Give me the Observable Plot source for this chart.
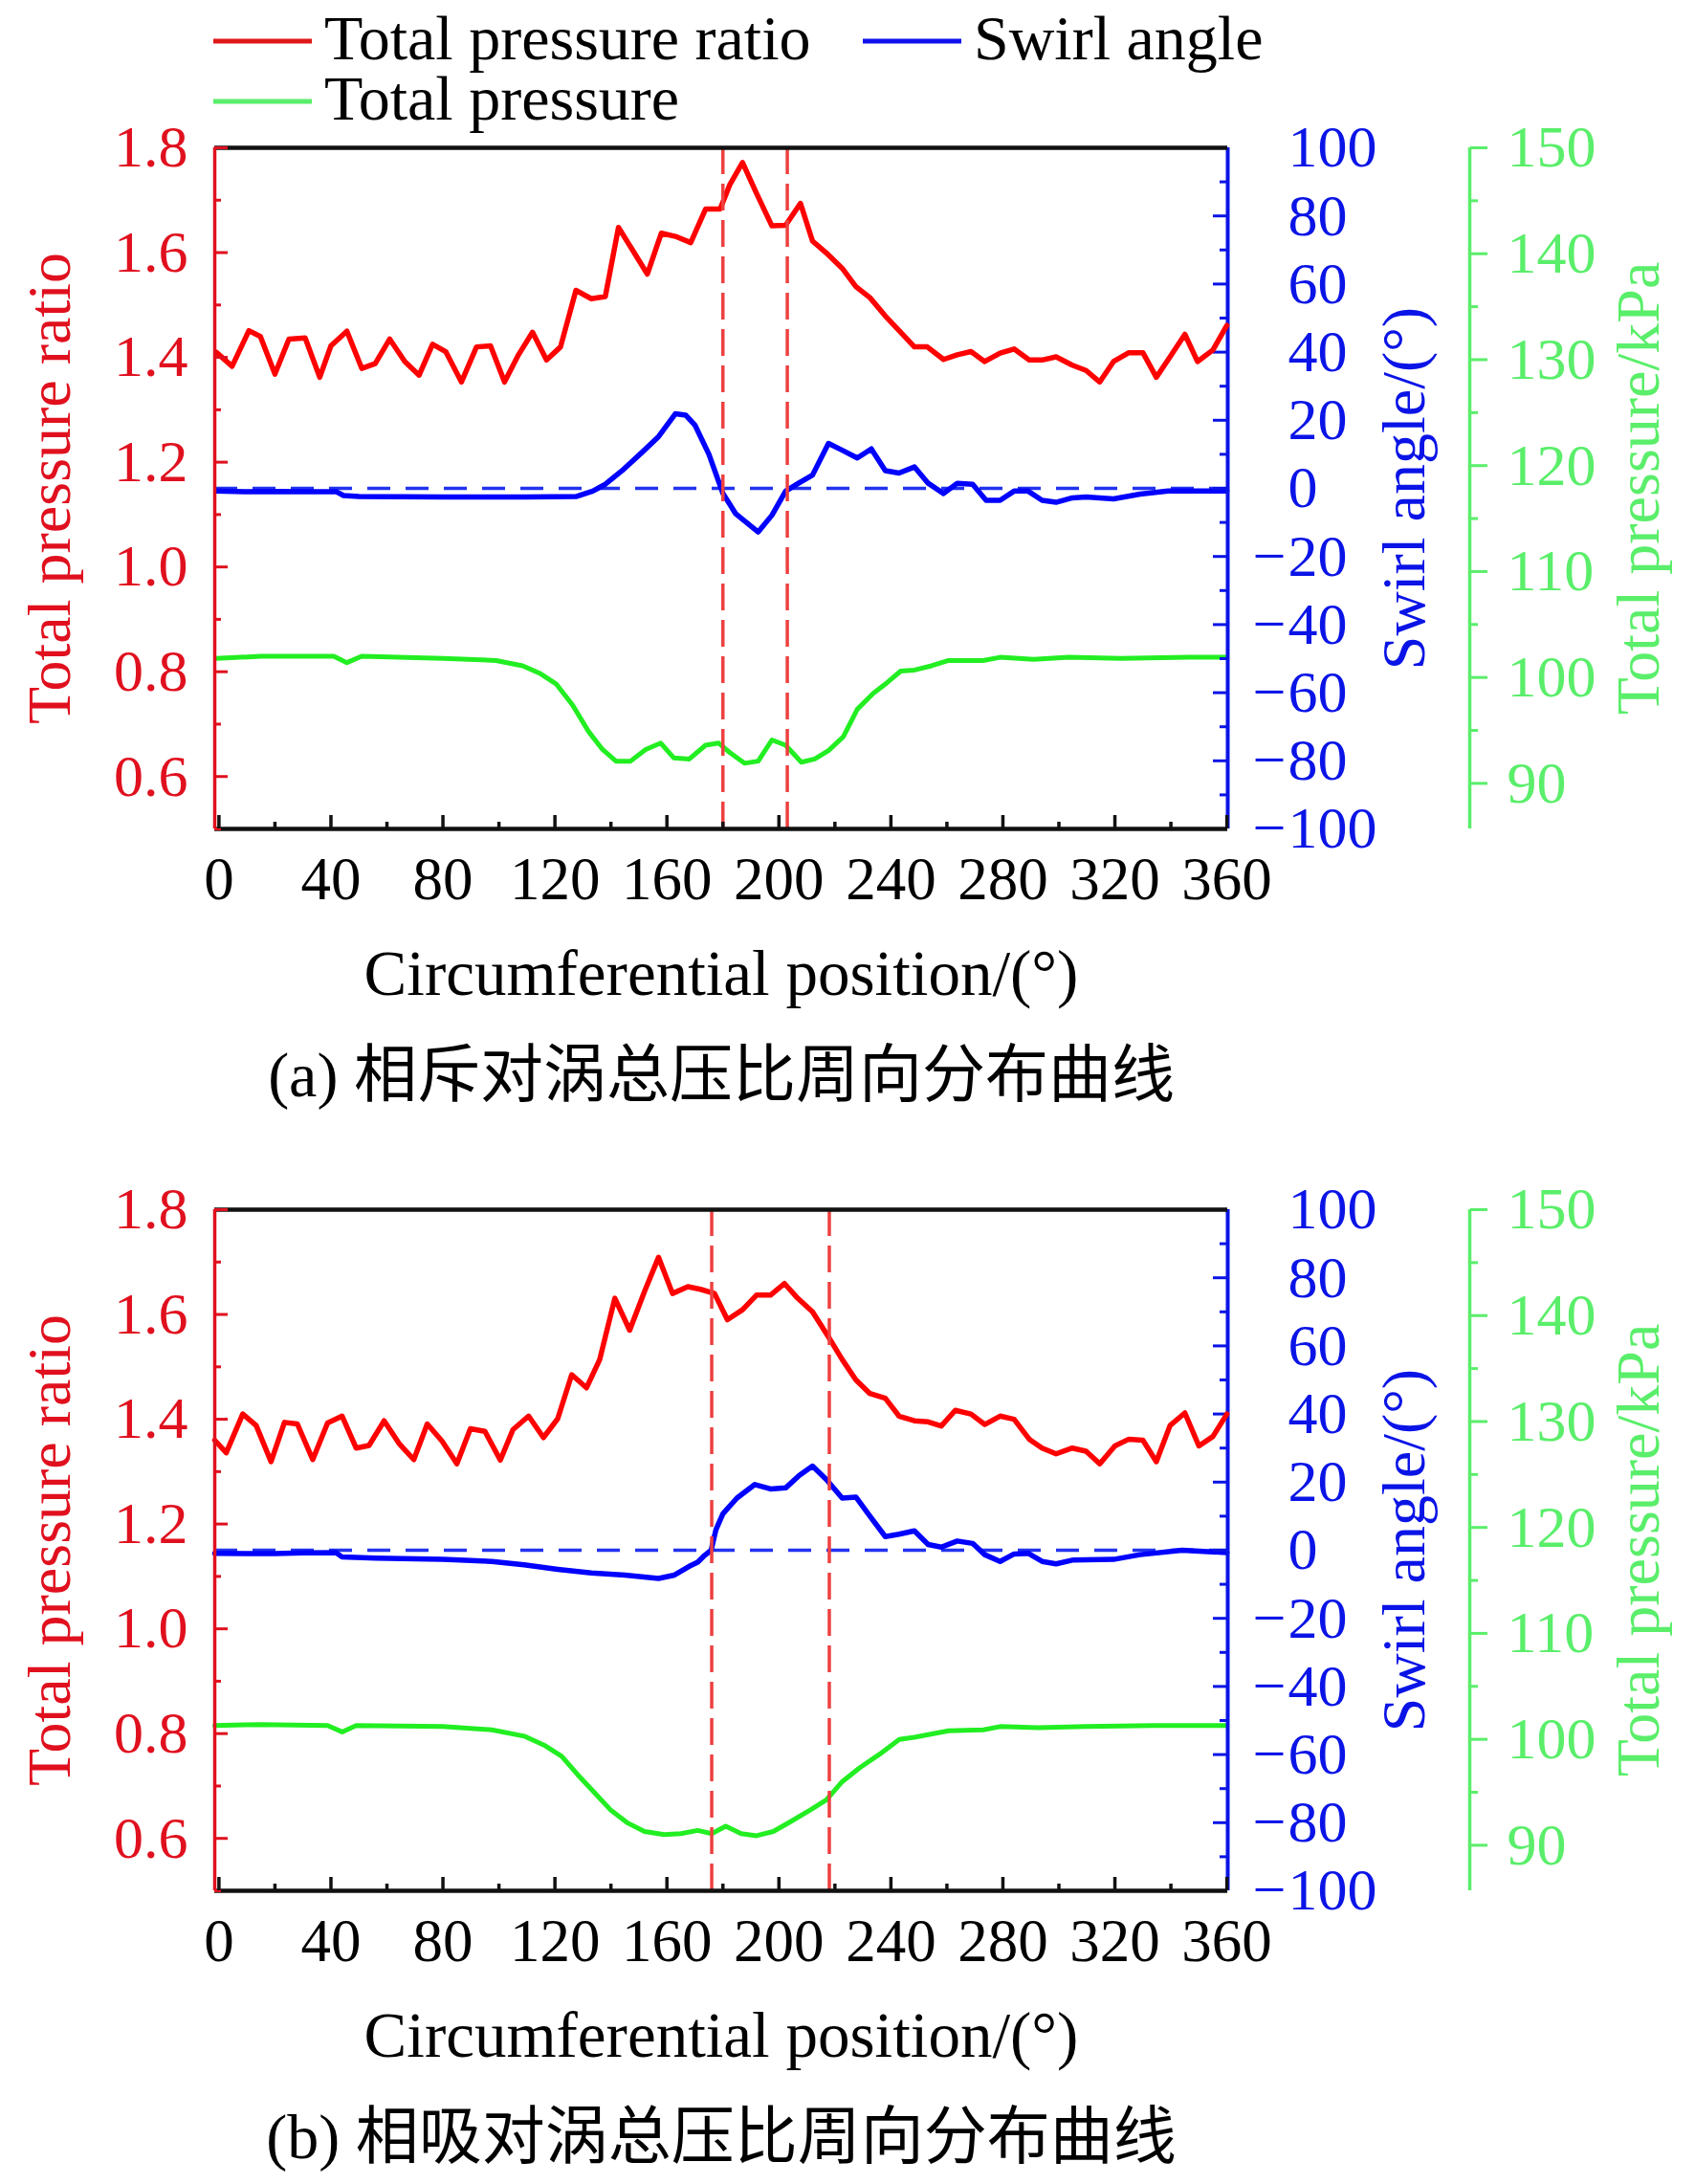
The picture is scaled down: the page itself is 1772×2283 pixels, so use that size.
<!DOCTYPE html>
<html>
<head>
<meta charset="utf-8">
<script src="https://cdn.jsdelivr.net/npm/d3@7"></script>
<script src="https://cdn.jsdelivr.net/npm/@observablehq/plot@0.6"></script>
<style>
  html, body { margin: 0; padding: 0; background: #ffffff; }
  #root { position: relative; width: 1772px; height: 2283px; overflow: hidden; background: #fff; }
  .layer { position: absolute; left: 0; top: 0; }
  .panel { position: absolute; left: 0; width: 1772px; height: 1173px; }
</style>
</head>
<body>
<div id="root"></div>
<script>
// ---------------- data ----------------
const xTicksMajor = [0, 40, 80, 120, 160, 200, 240, 280, 320, 360];
const xTicksMinor = [20, 60, 100, 140, 180, 220, 260, 300, 340];
const ratioTicksMajor = [0.6, 0.8, 1.0, 1.2, 1.4, 1.6, 1.8];
const ratioTicksMinor = [0.5, 0.7, 0.9, 1.1, 1.3, 1.5, 1.7];
const swirlTicksMajor = [-100, -80, -60, -40, -20, 0, 20, 40, 60, 80, 100];
const swirlTicksMinor = [-90, -70, -50, -30, -10, 10, 30, 50, 70, 90];
const totalTicksMajor = [90, 100, 110, 120, 130, 140, 150];
const totalTicksMinor = [95, 105, 115, 125, 135, 145];

const legendLabels = ["Total pressure ratio", "Swirl angle", "Total pressure"];
const xTitle = "Circumferential position/(°)";
const ratioTitle = "Total pressure ratio";
const swirlTitle = "Swirl angle/(°)";
const totalTitle = "Total pressure/kPa";
const captionA = "(a) 相斥对涡总压比周向分布曲线";
const captionB = "(b) 相吸对涡总压比周向分布曲线";

// panel (a) — [position deg, value]
const aMarkers = [180, 203];
const aRatio = [[-1,1.41],[4.7,1.383],[10.7,1.451],[14.8,1.44],[20,1.368],[25,1.435],[30.8,1.437],[36,1.362],[40,1.422],[45.7,1.45],[51,1.379],[55.8,1.388],[61,1.435],[66.4,1.392],[71.5,1.366],[76.3,1.425],[81,1.411],[86.6,1.353],[92,1.42],[97,1.422],[102,1.353],[107,1.405],[112,1.448],[117,1.395],[122,1.42],[127.5,1.528],[133,1.512],[138,1.516],[142.7,1.648],[147.7,1.605],[153,1.559],[158,1.637],[163,1.631],[168.5,1.619],[173.8,1.683],[179,1.683],[182.5,1.73],[187,1.772],[192,1.713],[197.5,1.651],[202.4,1.652],[207.7,1.694],[212,1.622],[217,1.599],[222.6,1.57],[227.5,1.535],[232.5,1.514],[238,1.479],[243.5,1.448],[248.4,1.42],[253,1.42],[258.8,1.396],[263.7,1.405],[268.6,1.411],[273.5,1.392],[279,1.408],[284,1.416],[289.4,1.395],[294,1.395],[299,1.401],[304.8,1.385],[309.7,1.375],[314.6,1.353],[319.5,1.392],[325,1.409],[330,1.409],[334.8,1.362],[339.7,1.401],[345,1.444],[349.5,1.392],[355,1.414],[360,1.461]];
const aSwirl = [[-1,-0.8],[10,-1],[20,-0.9],[30,-1],[42,-1],[44.5,-2.1],[50,-2.4],[80,-2.5],[110,-2.5],[127.5,-2.4],[133.5,-0.8],[138,1.2],[144,5.2],[151,10.5],[157,15.2],[163,21.9],[166.7,21.5],[170,18.6],[175,10],[180,-1.5],[184.6,-7.5],[192.6,-12.8],[197.5,-7.9],[202.4,-0.8],[207,1.5],[212,3.9],[217.7,13.2],[222.6,11.2],[228,8.9],[233,11.6],[238,5.2],[242.9,4.5],[248.4,6.3],[253.3,1.5],[258.8,-1.5],[263.7,1.5],[269.2,1.2],[274,-3.5],[279,-3.5],[284,-0.8],[289,-0.8],[294,-3.5],[299,-4.1],[304.8,-2.8],[309.7,-2.5],[319.5,-3.1],[329,-1.7],[339,-0.8],[349,-0.8],[360,-0.8]];
const aTotal = [[-1,101.8],[15,102],[41,102],[45.7,101.4],[51,102],[80,101.8],[99,101.6],[108.5,101.1],[114.5,100.4],[120.4,99.4],[126.3,97.4],[132,94.9],[137,93.2],[141.8,92.1],[147,92.1],[152.4,93.2],[157.8,93.8],[162.5,92.4],[168,92.3],[173.8,93.6],[178.5,93.8],[182.5,92.9],[187.7,91.9],[192.6,92.1],[197.5,94.1],[202.4,93.6],[208,92],[212.8,92.3],[217.7,93.1],[223,94.4],[228,97],[233.7,98.5],[238.6,99.5],[243.5,100.6],[248.4,100.7],[254.5,101.1],[260.6,101.6],[268,101.6],[272.9,101.6],[279,101.9],[291,101.7],[303.5,101.9],[322,101.8],[346.4,101.9],[360,101.9]];

// panel (b)
const bMarkers = [176, 218];
const bRatio = [[-1.5,1.36],[2.6,1.336],[8.5,1.41],[13.3,1.388],[18.6,1.319],[23.4,1.394],[28,1.391],[33.5,1.323],[38.8,1.393],[44,1.406],[49,1.345],[53.6,1.35],[59,1.397],[64.3,1.354],[69.6,1.323],[74.4,1.391],[79.7,1.358],[85,1.315],[89.8,1.382],[95,1.377],[100.5,1.322],[105,1.38],[110.6,1.406],[115.9,1.365],[121,1.401],[126,1.485],[131.3,1.46],[136,1.514],[141.4,1.631],[146.7,1.57],[152,1.644],[157,1.709],[162,1.64],[167.5,1.653],[172,1.648],[177,1.64],[181.6,1.59],[187,1.609],[192,1.637],[197,1.637],[202,1.659],[206.7,1.631],[212,1.605],[217.7,1.557],[222.6,1.514],[227.5,1.475],[232.5,1.449],[238,1.44],[242.9,1.406],[248.4,1.397],[253.3,1.395],[258,1.387],[263,1.417],[268.6,1.41],[273.5,1.39],[279,1.406],[284,1.4],[289.4,1.362],[294,1.345],[299,1.334],[304.8,1.345],[309.7,1.339],[314.6,1.315],[320,1.349],[325,1.362],[330,1.36],[334.8,1.319],[339.7,1.388],[345,1.412],[350,1.349],[355,1.367],[360,1.41]];
const bSwirl = [[-1.5,-0.9],[10,-1],[20,-1],[30,-0.8],[41.8,-0.7],[44,-2],[56,-2.3],[80,-2.7],[97.5,-3.3],[109,-4.3],[121,-5.6],[133,-6.7],[145,-7.3],[157,-8.3],[162.7,-7.3],[168.7,-4.4],[171,-3.5],[173.5,-1.5],[175.8,0],[177.5,6],[180,10.7],[185,15.3],[191.4,19.3],[197,18],[202.4,18.3],[207.3,22],[212,24.7],[217,20.7],[222.6,15.3],[227.5,15.6],[232.5,10],[238,4],[242.9,4.7],[248.4,5.7],[253.3,1.7],[258,0.9],[263.7,2.7],[269.2,2],[273.5,-1.3],[279,-3.3],[284,-1.1],[289,-0.9],[294,-3.3],[299,-4],[304.8,-2.9],[319.5,-2.7],[329,-1.3],[344,0],[360,-0.7]];
const bTotal = [[-1.5,101.3],[15,101.4],[38.8,101.3],[44,100.7],[49,101.3],[80,101.2],[97.5,100.9],[109,100.3],[116.5,99.4],[122.4,98.4],[128,96.7],[134,95],[140,93.3],[146,92.1],[152,91.3],[159,91.0],[165,91.1],[171,91.4],[176,91.1],[181,91.8],[186.5,91.1],[192,90.9],[198,91.3],[204,92.2],[211,93.3],[217,94.3],[222.6,96],[228.8,97.3],[236,98.6],[243,100],[248.4,100.2],[260.6,100.8],[273,100.9],[279,101.2],[292.5,101.1],[309.7,101.2],[334,101.3],[360,101.3]];

// ---------------- style ----------------
const SERIF = "'Liberation Serif', 'Times New Roman', serif";
const CAPFONT = "'Liberation Serif', 'Noto Sans CJK SC', serif";
const RED = "#ff0000", RED_AX = "#e0101e", RED_DASH = "#ee4040";
const BLUE = "#0000ff", BLUE_AX = "#0a14e6", BLUE_DASH = "#2233ee";
const GREEN = "#22ee22", GREEN_AX = "#5aee6a";

const W = 1772, H = 1173;
const ML = 224, MR = 489, MT = 154, MB = 307;
const FW = W - ML - MR;   // frame width
const FH = H - MT - MB;   // frame height
const XDOM = [-1.5, 360.3];

const base = {
  width: W, height: H,
  marginLeft: ML, marginRight: MR, marginTop: MT, marginBottom: MB,
  style: {background: "transparent", overflow: "visible"}
};

function redLayer(ratio, markers, caption) {
  return Plot.plot({
    ...base,
    x: {domain: XDOM},
    y: {domain: [0.5, 1.8]},
    marks: [
      Plot.line(ratio, {x: d => d[0], y: d => d[1], stroke: RED, strokeWidth: 5.5, strokeLinejoin: "round"}),
      Plot.ruleX(markers, {x: d => d, stroke: RED_DASH, strokeWidth: 3.5, strokeDasharray: "28 10"}),
      Plot.ruleY([1.8], {y: d => d, stroke: "#111", strokeWidth: 4.5}),
      Plot.ruleY([0.5], {y: d => d, stroke: "#111", strokeWidth: 4.5}),
      Plot.ruleX([XDOM[0]], {x: d => d, stroke: RED_AX, strokeWidth: 3.5}),
      Plot.tickY(ratioTicksMajor, {y: d => d, stroke: RED_AX, strokeWidth: 3, insetRight: FW - 14}),
      Plot.tickY(ratioTicksMinor, {y: d => d, stroke: RED_AX, strokeWidth: 3, insetRight: FW - 7}),
      Plot.tickX(xTicksMajor, {x: d => d, stroke: "#111", strokeWidth: 3.5, insetTop: FH - 14}),
      Plot.tickX(xTicksMinor, {x: d => d, stroke: "#111", strokeWidth: 3.5, insetTop: FH - 7}),
      Plot.axisY({anchor: "left", ticks: ratioTicksMajor, tickFormat: d => d.toFixed(1), tickSize: 0, tickPadding: 28,
        fontSize: 62, fontFamily: SERIF, color: RED_AX, fill: RED_AX, label: null}),
      Plot.axisX({anchor: "bottom", ticks: xTicksMajor, tickFormat: d => String(d), tickSize: 0, tickPadding: 29,
        fontSize: 63, fontFamily: SERIF, color: "#000", fill: "#000", label: null}),
      Plot.text([xTitle], {text: d => d, frameAnchor: "bottom", dy: 152, lineAnchor: "middle", textAnchor: "middle",
        fontSize: 67, fontFamily: SERIF, fill: "#000"}),
      Plot.text([caption], {text: d => d, frameAnchor: "bottom", dy: 258, lineAnchor: "middle", textAnchor: "middle",
        fontSize: 66, fontFamily: CAPFONT, fill: "#000"}),
      Plot.text([ratioTitle], {text: d => d, frameAnchor: "left", dx: 52 - ML, rotate: -90, textAnchor: "middle", lineAnchor: "middle",
        fontSize: 64, fontFamily: SERIF, fill: RED_AX})
    ]
  });
}

function blueLayer(swirl) {
  return Plot.plot({
    ...base,
    x: {domain: XDOM, axis: null},
    y: {domain: [-100, 100]},
    marks: [
      Plot.ruleY([0], {y: d => d, stroke: BLUE_DASH, strokeWidth: 3.5, strokeDasharray: "24 16"}),
      Plot.line(swirl, {x: d => d[0], y: d => d[1], stroke: BLUE, strokeWidth: 5.5, strokeLinejoin: "round"}),
      Plot.ruleX([XDOM[1]], {x: d => d, stroke: BLUE_AX, strokeWidth: 4}),
      Plot.tickY(swirlTicksMajor, {y: d => d, stroke: BLUE_AX, strokeWidth: 3, insetLeft: FW - 15}),
      Plot.tickY(swirlTicksMinor, {y: d => d, stroke: BLUE_AX, strokeWidth: 3, insetLeft: FW - 8}),
      Plot.axisY({anchor: "right", ticks: swirlTicksMajor, tickFormat: d => String(Math.abs(d)), tickSize: 0, tickPadding: 63,
        textAnchor: "start", fontSize: 62, fontFamily: SERIF, color: BLUE_AX, fill: BLUE_AX, label: null}),
      Plot.axisY({anchor: "right", ticks: swirlTicksMajor.filter(d => d < 0), tickFormat: () => "−", tickSize: 0, tickPadding: 61,
        textAnchor: "end", fontSize: 62, fontFamily: SERIF, color: BLUE_AX, fill: BLUE_AX, label: null}),
      Plot.text([swirlTitle], {text: d => d, frameAnchor: "right", dx: 1468 - (W - MR), rotate: -90, textAnchor: "middle", lineAnchor: "middle",
        fontSize: 64, fontFamily: SERIF, fill: BLUE_AX})
    ]
  });
}

function greenLayer(total) {
  const off = 1536 - (W - MR);
  return Plot.plot({
    ...base,
    x: {domain: XDOM, axis: null},
    y: {domain: [85.7, 150]},
    marks: [
      Plot.line(total, {x: d => d[0], y: d => d[1], stroke: GREEN, strokeWidth: 5, strokeLinejoin: "round"}),
      Plot.ruleX([XDOM[1]], {x: d => d, dx: off, stroke: GREEN_AX, strokeWidth: 3.5}),
      Plot.axisY({anchor: "right", ticks: totalTicksMajor, tickFormat: d => String(d), dx: off, tickSize: 18, tickPadding: 21,
        strokeWidth: 3, fontSize: 62, fontFamily: SERIF, color: GREEN_AX, stroke: GREEN_AX, fill: GREEN_AX, label: null}),
      Plot.axisY({anchor: "right", ticks: totalTicksMinor, tickFormat: () => "", dx: off, tickSize: 8, tickPadding: 0,
        strokeWidth: 3, color: GREEN_AX, stroke: GREEN_AX, label: null}),
      Plot.text([totalTitle], {text: d => d, frameAnchor: "right", dx: 1713 - (W - MR), rotate: -90, textAnchor: "middle", lineAnchor: "middle",
        fontSize: 64, fontFamily: SERIF, fill: GREEN_AX})
    ]
  });
}

const root = document.getElementById("root");

function addPanel(top, ratio, swirl, total, markers, caption) {
  const panel = document.createElement("div");
  panel.className = "panel";
  panel.style.top = top + "px";
  for (const svg of [greenLayer(total), blueLayer(swirl), redLayer(ratio, markers, caption)]) {
    svg.classList.add("layer");
    panel.appendChild(svg);
  }
  root.appendChild(panel);
}

addPanel(0, aRatio, aSwirl, aTotal, aMarkers, captionA);
addPanel(1110, bRatio, bSwirl, bTotal, bMarkers, captionB);

// legend
const legendItems = [
  {label: legendLabels[0], color: "#e01818", x: 223, y: 43},
  {label: legendLabels[1], color: "#1010ee", x: 902, y: 43},
  {label: legendLabels[2], color: GREEN_AX, x: 223, y: 106}
];
const leg = d3.create("svg").attr("width", W).attr("height", 150)
  .style("position", "absolute").style("left", "0px").style("top", "0px");
const g = leg.selectAll("g").data(legendItems).join("g")
  .attr("transform", d => `translate(${d.x},${d.y})`);
g.append("line").attr("x1", 0).attr("x2", 103).attr("y1", 0).attr("y2", 0)
  .attr("stroke", d => d.color).attr("stroke-width", 5);
g.append("text").attr("x", 116).attr("y", 19).text(d => d.label)
  .attr("font-family", SERIF).attr("font-size", 66).attr("fill", "#000");
root.appendChild(leg.node());
</script>
</body>
</html>
